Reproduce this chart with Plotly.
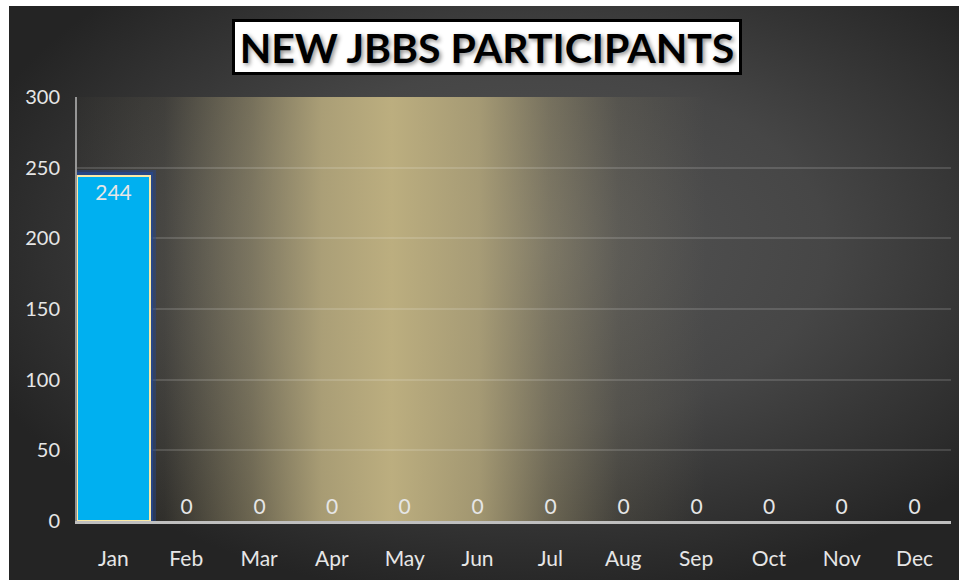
import base64
import plotly.graph_objects as go

# ---- data ----
months = ["Jan", "Feb", "Mar", "Apr", "May", "Jun", "Jul", "Aug", "Sep", "Oct", "Nov", "Dec"]
participants = [244, 0, 0, 0, 0, 0, 0, 0, 0, 0, 0, 0]
y_ticks = [0, 50, 100, 150, 200, 250, 300]
title_text = "NEW JBBS PARTICIPANTS"

# ---- layout geometry (pixels) ----
W, H = 959, 580
ML, MR, MT, MB = 77, 8, 97, 59
PW, PH = W - ML - MR, H - MT - MB
BG_X0, BG_Y0 = 9, 6  # white strip at left / top of the reference image


def px_to_paper_x(px):
    return (px - ML) / PW


def px_to_paper_y(py):
    return (H - MB - py) / PH


def svg_uri(svg):
    return "data:image/svg+xml;base64," + base64.b64encode(svg.encode()).decode()


bg_w, bg_h = W - BG_X0, H - BG_Y0
bg_svg = f"""<svg xmlns='http://www.w3.org/2000/svg' width='{bg_w}' height='{bg_h}' viewBox='0 0 {bg_w} {bg_h}' preserveAspectRatio='none'>
<defs><radialGradient id='g' cx='55%' cy='42%' r='62%'>
<stop offset='0%' stop-color='#555555'/>
<stop offset='50%' stop-color='#464646'/>
<stop offset='100%' stop-color='#242424'/>
</radialGradient></defs>
<rect width='{bg_w}' height='{bg_h}' fill='url(#g)'/></svg>"""

plot_svg = f"""<svg xmlns='http://www.w3.org/2000/svg' width='{PW}' height='{PH}' viewBox='0 0 {PW} {PH}' preserveAspectRatio='none'>
<defs><linearGradient id='l' x1='0' y1='0' x2='1' y2='0'>
<stop offset='0%' stop-color='#bcae7f' stop-opacity='0.02'/>
<stop offset='10%' stop-color='#bcae7f' stop-opacity='0.08'/>
<stop offset='20%' stop-color='#bcae7f' stop-opacity='0.45'/>
<stop offset='28%' stop-color='#bcae7f' stop-opacity='0.85'/>
<stop offset='36%' stop-color='#bcae7f' stop-opacity='1'/>
<stop offset='46%' stop-color='#bcae7f' stop-opacity='0.8'/>
<stop offset='54%' stop-color='#bcae7f' stop-opacity='0.4'/>
<stop offset='62%' stop-color='#bcae7f' stop-opacity='0.12'/>
<stop offset='72%' stop-color='#bcae7f' stop-opacity='0'/>
</linearGradient></defs>
<rect width='{PW}' height='{PH}' fill='url(#l)'/></svg>"""

label_font = dict(family="Lato, 'Open Sans', sans-serif", size=20, color="#e6e6e6")
data_font = dict(label_font, size=21)

glow_outer = [12 if v > 0 else 0 for v in participants]
glow_inner = [7 if v > 0 else 0 for v in participants]
line_widths = [2 if v > 0 else 0 for v in participants]
text_pos = ["inside" if v > 0 else "outside" for v in participants]

fig = go.Figure()
for gw, gc in ((glow_outer, "rgba(38,72,145,0.45)"), (glow_inner, "rgba(38,72,145,0.75)")):
    fig.add_trace(go.Bar(
        x=months, y=participants,
        marker=dict(color="rgba(0,0,0,0)", line=dict(color=gc, width=gw)),
        cliponaxis=False,
        hoverinfo="skip", showlegend=False,
    ))
fig.add_trace(go.Bar(
    x=months, y=participants,
    marker=dict(color="#00b0f0", line=dict(color="#fbe9a6", width=line_widths)),
    text=[str(v) for v in participants],
    textposition=text_pos,
    insidetextanchor="end",
    textfont=data_font,
    insidetextfont=data_font,
    outsidetextfont=data_font,
    constraintext="none",
    cliponaxis=False,
    showlegend=False,
))

fig.update_layout(
    width=W, height=H,
    margin=dict(l=ML, r=MR, t=MT, b=MB, pad=0),
    paper_bgcolor="white",
    plot_bgcolor="rgba(0,0,0,0)",
    barmode="overlay",
    bargap=0.0,
    font=label_font,
    images=[
        dict(source=svg_uri(bg_svg), xref="paper", yref="paper",
             x=px_to_paper_x(BG_X0), y=px_to_paper_y(BG_Y0),
             sizex=bg_w / PW, sizey=bg_h / PH,
             xanchor="left", yanchor="top", sizing="stretch", layer="below"),
        dict(source=svg_uri(plot_svg), xref="paper", yref="paper",
             x=0, y=1, sizex=1, sizey=1,
             xanchor="left", yanchor="top", sizing="stretch", layer="below"),
    ],
    annotations=[dict(
        text="<b>" + title_text + "</b>",
        xref="paper", yref="paper",
        x=px_to_paper_x(487), y=px_to_paper_y(46.5),
        xanchor="center", yanchor="middle",
        showarrow=False,
        font=dict(family="Lato, 'Open Sans', sans-serif", size=41, color="black",
                  shadow="2px 2px 4px rgba(0,0,0,0.45)"),
        bgcolor="white", bordercolor="black", borderwidth=3, borderpad=2,
        width=500, height=46,
    )],
    xaxis=dict(
        showgrid=False, showline=True, linecolor="#bfbfbf", linewidth=3,
        ticks="outside", ticklen=17, tickcolor="rgba(0,0,0,0)",
        tickfont=dict(label_font, size=21), zeroline=False,
    ),
    yaxis=dict(
        range=[0, 300], tickvals=y_ticks,
        showgrid=True, gridcolor="rgba(255,255,255,0.14)", gridwidth=1.5,
        showline=True, linecolor="rgba(220,220,220,0.6)", linewidth=2,
        ticks="outside", ticklen=11, tickcolor="rgba(0,0,0,0)",
        tickfont=label_font, zeroline=False,
    ),
)

fig.write_html(
    "out.html",
    config={"displayModeBar": False},
    post_script="document.body.style.margin='0';document.body.style.overflow='hidden';",
)
